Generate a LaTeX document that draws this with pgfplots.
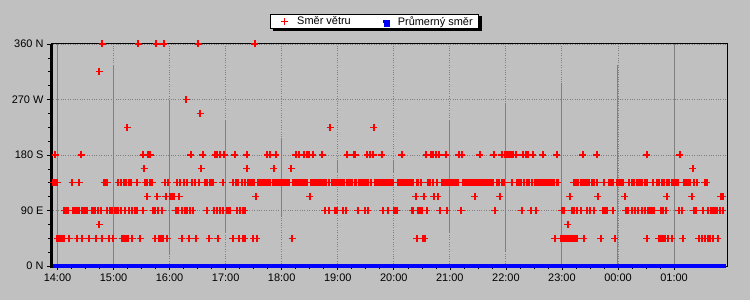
\documentclass[border=0pt]{standalone}
\usepackage{pgfplots}
\pgfplotsset{compat=1.18}
\usepackage{pgfplotstable}
\usepackage{fontspec}
\setmainfont{Liberation Sans}
\usetikzlibrary{shadows}
\definecolor{bg}{RGB}{192,192,192}
\definecolor{gridgray}{RGB}{128,128,128}
\definecolor{mred}{RGB}{255,0,0}
\definecolor{mblue}{RGB}{0,0,255}

% t = sample position along the time axis (14:00 at 57.5, 56.05 per hour), d = direction in degrees
\pgfplotstableread[row sep=\\]{
t d\\
57 45\\59 45\\61 45\\63 45\\64 45\\69 45\\77 45\\82 45\\89 45\\96 45\\102 45\\109 45\\113 45\\122 45\\124 45\\126 45\\128 45\\132 45\\140 45\\155 45\\159 45\\161 45\\163 45\\167 45\\182 45\\189 45\\196 45\\209 45\\218 45\\233 45\\239 45\\243 45\\245 45\\253 45\\257 45\\292 45\\417 45\\423 45\\425 45\\555 45\\561 45\\563 45\\565 45\\567 45\\568 45\\570 45\\572 45\\573 45\\575 45\\577 45\\584 45\\601 45\\615 45\\647 45\\659 45\\661 45\\663 45\\665 45\\668 45\\672 45\\683 45\\699 45\\702 45\\705 45\\708 45\\710 45\\713 45\\718 45\\
99 67.5\\568 67.5\\
64 90\\66 90\\68 90\\73 90\\75 90\\77 90\\79 90\\82 90\\83 90\\85 90\\87 90\\92 90\\94 90\\95 90\\98 90\\101 90\\107 90\\110 90\\112 90\\115 90\\117 90\\118 90\\121 90\\125 90\\129 90\\132 90\\135 90\\137 90\\143 90\\153 90\\155 90\\158 90\\162 90\\176 90\\178 90\\182 90\\185 90\\187 90\\190 90\\193 90\\207 90\\214 90\\217 90\\220 90\\223 90\\227 90\\229 90\\230 90\\237 90\\240 90\\243 90\\245 90\\325 90\\329 90\\335 90\\337 90\\343 90\\346 90\\358 90\\365 90\\368 90\\383 90\\388 90\\394 90\\395 90\\397 90\\412 90\\413 90\\418 90\\420 90\\422 90\\427 90\\440 90\\447 90\\461 90\\495 90\\522 90\\531 90\\536 90\\562 90\\564 90\\572 90\\574 90\\577 90\\581 90\\587 90\\590 90\\594 90\\603 90\\605 90\\607 90\\613 90\\626 90\\628 90\\632 90\\635 90\\638 90\\642 90\\645 90\\648 90\\650 90\\652 90\\654 90\\661 90\\663 90\\666 90\\679 90\\682 90\\694 90\\696 90\\703 90\\708 90\\711 90\\713 90\\715 90\\717 90\\720 90\\723 90\\
147 112.5\\157 112.5\\166 112.5\\170 112.5\\172 112.5\\174 112.5\\179 112.5\\256 112.5\\310 112.5\\416 112.5\\424 112.5\\434 112.5\\438 112.5\\475 112.5\\500 112.5\\570 112.5\\598 112.5\\625 112.5\\667 112.5\\692 112.5\\721 112.5\\723 112.5\\
53 135\\55 135\\57 135\\72 135\\79 135\\104 135\\106 135\\107 135\\118 135\\121 135\\124 135\\126 135\\129 135\\131 135\\137 135\\145 135\\147 135\\150 135\\152 135\\165 135\\168 135\\177 135\\180 135\\184 135\\187 135\\192 135\\195 135\\199 135\\205 135\\207 135\\210 135\\212 135\\213 135\\223 135\\233 135\\236 135\\238 135\\242 135\\245 135\\248 135\\250 135\\252 135\\254 135\\258 135\\260 135\\262 135\\264 135\\266 135\\268 135\\270 135\\273 135\\275 135\\277 135\\279 135\\281 135\\283 135\\285 135\\287 135\\289 135\\293 135\\295 135\\297 135\\299 135\\301 135\\303 135\\305 135\\307 135\\311 135\\313 135\\315 135\\317 135\\319 135\\320 135\\322 135\\324 135\\326 135\\329 135\\332 135\\334 135\\336 135\\338 135\\340 135\\342 135\\344 135\\347 135\\349 135\\350 135\\352 135\\355 135\\356 135\\359 135\\361 135\\363 135\\365 135\\367 135\\368 135\\371 135\\375 135\\377 135\\379 135\\381 135\\383 135\\385 135\\387 135\\389 135\\391 135\\393 135\\398 135\\400 135\\402 135\\404 135\\406 135\\408 135\\410 135\\412 135\\413 135\\417 135\\418 135\\421 135\\428 135\\430 135\\433 135\\437 135\\442 135\\444 135\\445 135\\447 135\\449 135\\450 135\\452 135\\454 135\\456 135\\458 135\\463 135\\465 135\\467 135\\469 135\\471 135\\473 135\\475 135\\477 135\\479 135\\481 135\\483 135\\485 135\\487 135\\489 135\\491 135\\493 135\\497 135\\499 135\\502 135\\504 135\\512 135\\517 135\\519 135\\521 135\\524 135\\527 135\\529 135\\532 135\\535 135\\537 135\\539 135\\541 135\\543 135\\545 135\\547 135\\549 135\\550 135\\552 135\\554 135\\557 135\\558 135\\574 135\\576 135\\578 135\\581 135\\583 135\\585 135\\587 135\\589 135\\592 135\\594 135\\597 135\\604 135\\609 135\\611 135\\613 135\\617 135\\619 135\\621 135\\623 135\\629 135\\632 135\\634 135\\637 135\\638 135\\640 135\\642 135\\645 135\\647 135\\653 135\\657 135\\659 135\\662 135\\664 135\\667 135\\669 135\\672 135\\673 135\\675 135\\677 135\\678 135\\684 135\\686 135\\688 135\\690 135\\694 135\\697 135\\705 135\\707 135\\
144 157.5\\201 157.5\\247 157.5\\274 157.5\\291 157.5\\693 157.5\\
55 180\\81 180\\143 180\\148 180\\150 180\\191 180\\203 180\\215 180\\217 180\\220 180\\224 180\\235 180\\247 180\\267 180\\270 180\\276 180\\296 180\\299 180\\304 180\\307 180\\309 180\\313 180\\322 180\\347 180\\354 180\\355 180\\367 180\\370 180\\373 180\\382 180\\402 180\\426 180\\431 180\\433 180\\436 180\\439 180\\446 180\\459 180\\462 180\\480 180\\494 180\\502 180\\505 180\\507 180\\509 180\\511 180\\513 180\\516 180\\523 180\\526 180\\528 180\\533 180\\543 180\\557 180\\583 180\\597 180\\647 180\\680 180\\
127 225\\330 225\\374 225\\
200 247.5\\
186 270\\
99 315\\
102 360\\138 360\\156 360\\164 360\\198 360\\255 360\\
}\winddata

\begin{document}
\begin{tikzpicture}
\fill[bg] (0bp,0bp) rectangle (750bp,300bp);
\useasboundingbox (0bp,0bp) rectangle (750bp,300bp);
\begin{axis}[
  at={(51bp,34bp)}, anchor=south west,
  scale only axis, width=676bp, height=222bp,
  xmin=13.884, xmax=25.945, ymin=0, ymax=360,
  clip=false,
  axis background/.style={fill=bg},
  axis line style={black, line width=1bp},
  xtick={14,15,16,17,18,19,20,21,22,23,24,25},
  xticklabels={14:00,15:00,16:00,17:00,18:00,19:00,20:00,21:00,22:00,23:00,00:00,01:00},
  ytick={0,90,180,270,360},
  yticklabels={0 N,90 E,180 S,270 W,360 N},
  minor x tick num=3,
  minor y tick num=3,
  tick align=outside, tick pos=left,
  major tick length=4bp, minor tick length=3bp,
  every tick/.style={black, line width=0.6bp},
  grid=major,
  major grid style={gridgray, dotted, line width=0.9bp},
  tick label style={font=\fontsize{11}{13}\selectfont},
  legend style={at={(axis description cs:0.324,1.135)}, anchor=north west,
    draw=black, fill=white, line width=0.8bp,
    font=\fontsize{11}{13}\selectfont,
    drop shadow={shadow xshift=3bp, shadow yshift=-2bp, fill=black, opacity=1},
    inner ysep=0bp, inner xsep=4bp,
    /tikz/every even column/.append style={column sep=19bp}},
  legend columns=2,
  legend cell align=left,
]
% solid portions of the vertical grid lines, as in the reference
\addplot[gridgray, line width=1bp, forget plot] coordinates {(14,0) (14,360)};
\addplot[gridgray, line width=1bp, forget plot] coordinates {(15,0) (15,326)};
\addplot[gridgray, line width=1bp, forget plot] coordinates {(16,20) (16,269)};
\addplot[gridgray, line width=1bp, forget plot] coordinates {(17,54) (17,237)};
\addplot[gridgray, line width=1bp, forget plot] coordinates {(18,79) (18,208)};
\addplot[gridgray, line width=1bp, forget plot] coordinates {(19,151) (19,172)};
\addplot[gridgray, line width=1bp, forget plot] coordinates {(20,151) (20,172)};
\addplot[gridgray, line width=1bp, forget plot] coordinates {(21,54) (21,237)};
\addplot[gridgray, line width=1bp, forget plot] coordinates {(22,23) (22,264)};
\addplot[gridgray, line width=1bp, forget plot] coordinates {(23,0) (23,297)};
\addplot[gridgray, line width=1bp, forget plot] coordinates {(24,0) (24,326)};
\addplot[gridgray, line width=1bp, forget plot] coordinates {(25,0) (25,360)};
\addplot[only marks, mark=+, mark size=3.5bp, color=mred, mark options={line width=1.2bp},
  legend image code/.code={\path (0bp,0bp) (20bp,0bp); \draw[mred] plot[mark=+, mark size=3.5bp, mark options={line width=1.2bp}] coordinates {(10bp,0bp)};}]
  table[x expr=14+(\thisrow{t}-57.5)/56.05, y=d]{\winddata};
\addlegendentry{Směr větru}
\addplot[mblue, line width=4bp,
  legend image code/.code={\path (0bp,0bp) (20bp,0bp); \fill[mblue, draw=none] (8.75bp,-1.75bp) rectangle (11.25bp,1.75bp);}]
  coordinates {(13.92,0) (25.93,0)};
\addlegendentry{Průmerný směr}
\draw[black, line width=3bp] (rel axis cs:0,-0.01) -- (rel axis cs:0,1);
\end{axis}
\end{tikzpicture}
\end{document}
